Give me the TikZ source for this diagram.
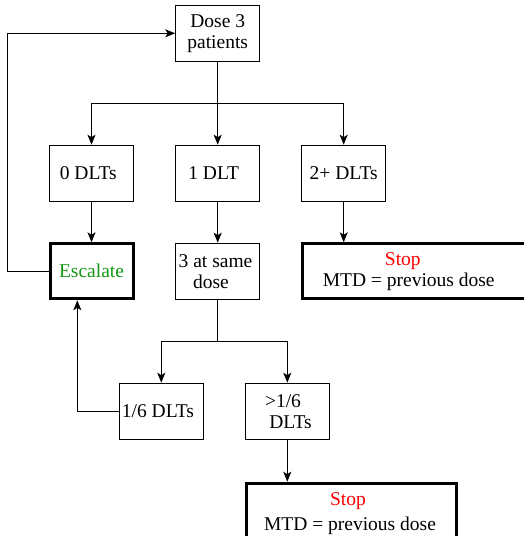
\documentclass[tikz,border=0pt]{standalone}
\usepackage{fontspec}
\setmainfont{Liberation Serif}
\usetikzlibrary{arrows.meta}
\definecolor{escgreen}{RGB}{20,150,20}
\begin{document}
\begin{tikzpicture}[x=1pt,y=-1pt,
  every node/.style={font=\fontsize{19.5}{21}\selectfont},
  box/.style={draw,line width=1pt,minimum width=84pt,minimum height=56pt,inner sep=0pt,align=center},
  tbox/.style={draw,line width=3pt,minimum height=55pt,inner sep=0pt,align=center},
  arr/.style={line width=1pt,-{Stealth[length=10pt,width=8pt,inset=2.5pt]}},
  ln/.style={line width=1pt}]
\clip (0,0) rectangle (524,536);
\useasboundingbox (0,0) rectangle (524,536);
\node[box] (dose) at (217.7,33.3) {Dose 3\\patients};
\node[box] (d0) at (91.5,173.2) {0 DLTs\hspace*{6.4pt}};
\node[box] (d1) at (217.7,173.2) {1 DLT\hspace*{8pt}};
\node[box] (d2) at (343.7,173.2) {2+ DLTs};
\node[tbox,minimum width=83pt,text=escgreen] (esc) at (91.5,271.3) {Escalate};
\node[box] (same) at (217.7,271.2) {3 at same\hspace*{4.4pt}\\dose\hspace*{13.4pt}};
\node[tbox,minimum width=230pt,anchor=west] (stop1) at (300.7,271.3) {\textcolor{red}{Stop}\hspace*{28.8pt}\\MTD = previous dose\hspace*{17pt}};
\node[box] (s16) at (161.3,411.2) {1/6 DLTs\hspace*{6.6pt}};
\node[box] (sg16) at (287.3,411.2) {>1/6\hspace*{8.6pt}\\\hspace*{6.4pt}DLTs};
\node[tbox,minimum width=210pt,minimum height=60pt,anchor=north west,font=\fontsize{19.5}{25}\selectfont] (stop2) at (245,481.7) {\textcolor{red}{Stop}\hspace*{7pt}\\MTD = previous dose\hspace*{3pt}};
\coordinate (b1) at (217.7,103.3);
\coordinate (b2) at (217.7,341);
\coordinate (l1) at (7.3,271.3);
\coordinate (l2) at (77.3,411.2);
\draw[ln] (dose.south) -- (b1);
\draw[arr] (b1) -| (d0.north);
\draw[arr] (b1) -- (d1.north);
\draw[arr] (b1) -| (d2.north);
\draw[arr] (d0.south) -- (esc.north);
\draw[arr] (d1.south) -- (same.north);
\draw[arr] (d2.south) -- (stop1.north west -| d2.south);
\draw[arr] (esc.west) -- (l1) |- (dose.west);
\draw[ln] (same.south) -- (b2);
\draw[arr] (b2) -| (s16.north);
\draw[arr] (b2) -| (sg16.north);
\draw[arr] (s16.west) -- (l2) -- (l2 |- esc.south);
\draw[arr] (sg16.south) -- (stop2.north west -| sg16.south);
\end{tikzpicture}
\end{document}
